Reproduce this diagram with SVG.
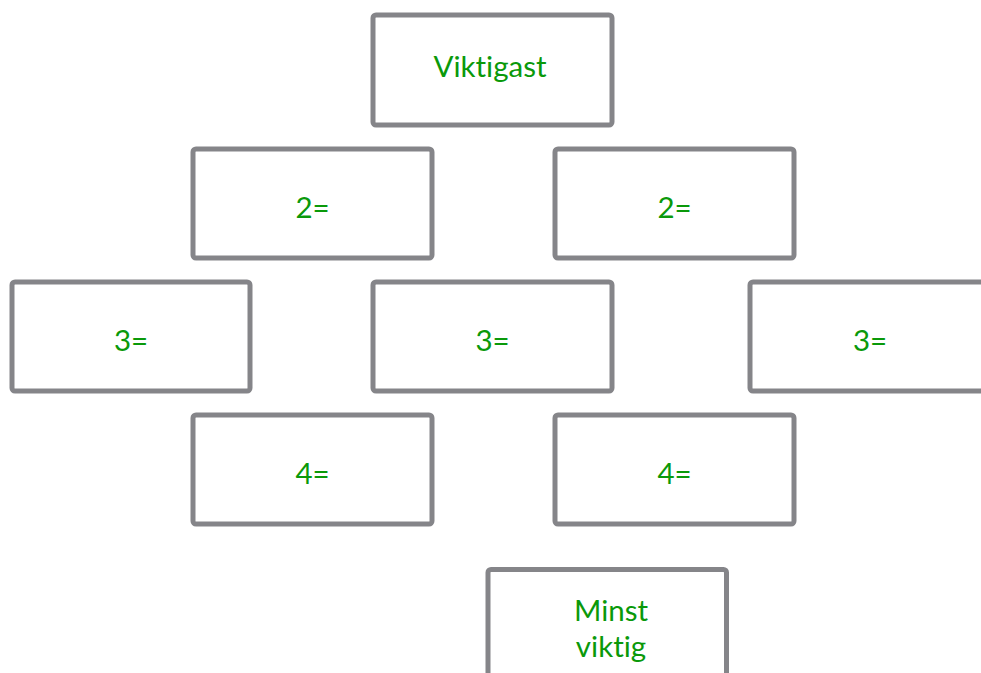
<svg xmlns="http://www.w3.org/2000/svg" width="981" height="673" viewBox="0 0 981 673">
<style>
.box{fill:#fff;stroke:#858589;stroke-width:5}
.t{font-family:Lato,"Open Sans","Liberation Sans",sans-serif;font-size:29.5px;fill:#0a990a;text-anchor:middle;font-variant-ligatures:none;font-feature-settings:"liga" 0}
</style>
<rect width="981" height="673" fill="#fff"/>
<g id="connectors"/>
<g id="n1"><rect class="box" x="373" y="15" width="239" height="110" rx="3"/><text class="t" x="490" y="76.5">Viktigast</text></g>
<g id="n2a"><rect class="box" x="193" y="149" width="239" height="109" rx="3"/><text class="t" x="312.5" y="218">2=</text></g>
<g id="n2b"><rect class="box" x="555" y="149" width="239" height="109" rx="3"/><text class="t" x="674.5" y="218">2=</text></g>
<g id="n3a"><rect class="box" x="12" y="282" width="238" height="109" rx="3"/><text class="t" x="131" y="351">3=</text></g>
<g id="n3b"><rect class="box" x="373" y="282" width="239" height="109" rx="3"/><text class="t" x="492.5" y="351">3=</text></g>
<g id="n3c"><rect class="box" x="750" y="282" width="239" height="109" rx="3"/><text class="t" x="870" y="351">3=</text></g>
<g id="n4a"><rect class="box" x="193" y="415" width="239" height="109" rx="3"/><text class="t" x="312.5" y="484">4=</text></g>
<g id="n4b"><rect class="box" x="555" y="415" width="239" height="109" rx="3"/><text class="t" x="674.5" y="484">4=</text></g>
<g id="n5"><rect class="box" x="488" y="569.5" width="238.5" height="110" rx="3"/><text class="t" x="611" y="621">Minst</text><text class="t" x="611" y="657">viktig</text></g>
</svg>
